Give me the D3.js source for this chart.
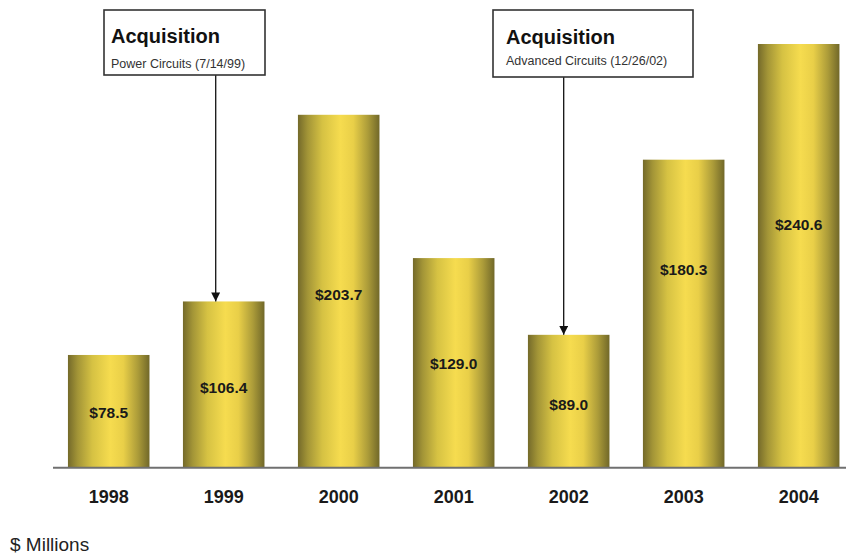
<!DOCTYPE html>
<html>
<head>
<meta charset="utf-8">
<script src="https://cdn.jsdelivr.net/npm/d3@7/dist/d3.min.js"></script>
<style>
  html, body { margin: 0; padding: 0; background: #fff; }
  svg { display: block; font-family: "Liberation Sans", Arial, sans-serif; }
</style>
</head>
<body>
<svg id="chart" width="846" height="555"></svg>
<script>
// Annual revenue, $ millions
const years = ["1998", "1999", "2000", "2001", "2002", "2003", "2004"];
const revenue = [78.5, 106.4, 203.7, 129.0, 89.0, 180.3, 240.6];

// Acquisition callouts
const acqYears = ["1999", "2002"];
const acqTitles = ["Acquisition", "Acquisition"];
const acqSubtitles = ["Power Circuits (7/14/99)", "Advanced Circuits (12/26/02)"];

const unitLabel = "$ Millions";

// ---- layout ----
const W = 846, H = 555;
const baseY = 467;
const svg = d3.select("#chart");

const x = d3.scaleBand()
  .domain(years)
  .range([53, 854.4])
  .paddingInner(0.291)
  .paddingOuter(0.13);

const y = d3.scaleLinear()
  .domain([20.1, 240.6])
  .range([baseY, 44]);

// baseline of each value label, as a fraction of the bar height from its top
const labelFrac = [0.56, 0.55, 0.525, 0.533, 0.57, 0.375, 0.44];

// horizontal cylinder-like gold shading
const defs = svg.append("defs");
const grad = defs.append("linearGradient")
  .attr("id", "gold")
  .attr("x1", "0%").attr("x2", "100%").attr("y1", "0%").attr("y2", "0%");
[
  [0, "#746a2a"],
  [0.12, "#a39537"],
  [0.3, "#d6c243"],
  [0.52, "#f6dc4f"],
  [0.68, "#e9cf48"],
  [0.86, "#ab9b39"],
  [1, "#716829"]
].forEach(([o, c]) => grad.append("stop").attr("offset", o).attr("stop-color", c));

const marker = defs.append("marker")
  .attr("id", "arrow")
  .attr("viewBox", "0 0 10 10")
  .attr("refX", 10).attr("refY", 5)
  .attr("markerWidth", 9).attr("markerHeight", 9)
  .attr("markerUnits", "userSpaceOnUse")
  .attr("orient", "auto");
marker.append("path").attr("d", "M0,0 L10,5 L0,10 Z").attr("fill", "#111");

// bars
svg.append("g").selectAll("rect")
  .data(years)
  .join("rect")
  .attr("x", d => x(d))
  .attr("width", x.bandwidth())
  .attr("y", (d, i) => y(revenue[i]))
  .attr("height", (d, i) => baseY - y(revenue[i]))
  .attr("fill", "url(#gold)");

// value labels
svg.append("g").selectAll("text")
  .data(years)
  .join("text")
  .attr("x", d => x(d) + x.bandwidth() / 2)
  .attr("y", (d, i) => y(revenue[i]) + (baseY - y(revenue[i])) * labelFrac[i])
  .attr("text-anchor", "middle")
  .attr("font-size", 15.5)
  .attr("font-weight", "bold")
  .attr("fill", "#1a1a1a")
  .text((d, i) => "$" + revenue[i].toFixed(1));

// baseline
svg.append("line")
  .attr("x1", 53).attr("x2", W)
  .attr("y1", baseY + 0.8).attr("y2", baseY + 0.8)
  .attr("stroke", "#707070")
  .attr("stroke-width", 2);

// year axis
const xAxis = svg.append("g")
  .attr("transform", `translate(0,${baseY})`)
  .call(d3.axisBottom(x).tickSize(0).tickPadding(23));
xAxis.select(".domain").remove();
xAxis.selectAll("text")
  .attr("font-family", "Liberation Sans, Arial, sans-serif")
  .attr("font-size", 18)
  .attr("font-weight", "bold")
  .attr("fill", "#1a1a1a");

// unit note
svg.append("text")
  .attr("x", 10).attr("y", 551)
  .attr("font-size", 19)
  .attr("fill", "#222")
  .text(unitLabel);

// callout boxes with arrows down to the bar tops
const boxes = [
  { x: 104, y: 10, w: 161, h: 65, tx: 7, titleY: 43, subY: 68, dx: -8 },
  { x: 493, y: 10, w: 200, h: 67, tx: 13, titleY: 44, subY: 65, dx: -5 }
];
acqYears.forEach((yr, k) => {
  const b = boxes[k];
  const i = years.indexOf(yr);
  const cx = x(yr) + x.bandwidth() / 2 + b.dx;
  const g = svg.append("g");
  g.append("line")
    .attr("x1", cx).attr("x2", cx)
    .attr("y1", b.y + b.h).attr("y2", y(revenue[i]))
    .attr("stroke", "#111").attr("stroke-width", 1.3)
    .attr("marker-end", "url(#arrow)");
  g.append("rect")
    .attr("x", b.x).attr("y", b.y)
    .attr("width", b.w).attr("height", b.h)
    .attr("fill", "#fff")
    .attr("stroke", "#333").attr("stroke-width", 1.6);
  g.append("text")
    .attr("x", b.x + b.tx).attr("y", b.titleY)
    .attr("font-size", 20).attr("font-weight", "bold")
    .attr("fill", "#111")
    .text(acqTitles[k]);
  g.append("text")
    .attr("x", b.x + b.tx).attr("y", b.subY)
    .attr("font-size", 12.5)
    .attr("fill", "#333")
    .text(acqSubtitles[k]);
});
</script>
</body>
</html>
